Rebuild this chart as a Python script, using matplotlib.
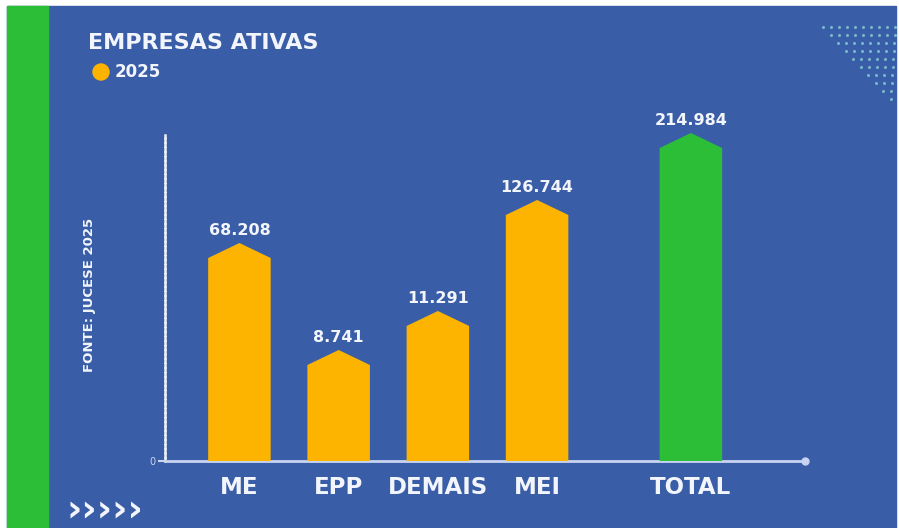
import matplotlib.pyplot as plt
from matplotlib.patches import Polygon, Rectangle, Circle

# Data
categories = ['ME', 'EPP', 'DEMAIS', 'MEI', 'TOTAL']
values = [68208, 8741, 11291, 126744, 214984]
# bar heights as drawn in the infographic (not to scale with values)
bar_heights = [218, 111, 150, 261, 328]
legend_label = '2025'
title = 'EMPRESAS ATIVAS'
source = 'FONTE: JUCESE 2025'

BLUE = '#3A5DA7'
GREEN = '#2DBE38'
ORANGE = '#FDB400'
WHITE = '#F2F5FB'

W, H = 899, 528
fig = plt.figure(figsize=(W / 100, H / 100), dpi=100)
fig.patch.set_facecolor('white')
plt.rcParams['font.family'] = ['DejaVu Sans']

# background / decoration axes in pixel units
bg = fig.add_axes([0, 0, 1, 1])
bg.set_xlim(0, W)
bg.set_ylim(H, 0)
bg.axis('off')
bg.add_patch(Rectangle((7, 6), W - 10, H - 6, color=BLUE, zorder=0))
bg.add_patch(Rectangle((7, 6), 41, H - 6, color=GREEN, zorder=1))

# dotted pattern top right
rows = 10
for i in range(rows):
    y = 27 + i * 8
    x = 823 + i * 7.5
    while x <= 896:
        bg.plot(x, y, 'o', ms=2.2, color='#86CFD6', alpha=0.8, mec='none')
        x += 8

bg.text(88, 43, title, fontsize=16, fontweight='bold', color=WHITE, va='center', ha='left')
bg.add_patch(Circle((101, 72), 8, color=ORANGE, zorder=3))
bg.text(115, 72, legend_label, fontsize=12, fontweight='bold', color=WHITE, va='center', ha='left')
bg.text(89, 295, source, fontsize=9.5, fontweight='bold', color=WHITE, rotation=90,
        va='center', ha='center')
bg.text(66, 511, '›››››', fontsize=27, fontweight='bold', color=WHITE, va='center', ha='left')

# chart axes
x_pos = [0, 1, 2, 3, 4.55]
bar_w = 0.63
peak = 15

left_px, right_px, base_px, top_px = 165, 805, 461, 135
ax = fig.add_axes([left_px / W, (H - base_px) / H, (right_px - left_px) / W, (base_px - top_px) / H])
ax.patch.set_alpha(0)
ax.set_xlim(-0.75, 5.7)
ax.set_ylim(0, base_px - top_px)

colors = [ORANGE] * 4 + [GREEN]
for x, h, v, c in zip(x_pos, bar_heights, values, colors):
    sh = h - peak
    pts = [(x - bar_w / 2, 0), (x - bar_w / 2, sh), (x, h), (x + bar_w / 2, sh), (x + bar_w / 2, 0)]
    ax.add_patch(Polygon(pts, closed=True, facecolor=c, edgecolor='none', clip_on=False, zorder=3))
    ax.text(x, h + 5, f'{v:,}'.replace(',', '.'), ha='center', va='bottom',
            fontsize=11.5, fontweight='bold', color=WHITE)

for s in ['top', 'right']:
    ax.spines[s].set_visible(False)
ax.spines['bottom'].set_color('#C9D4F2')
ax.spines['bottom'].set_linewidth(2)
ax.spines['left'].set_color('#EEF1FA')
ax.spines['left'].set_linewidth(1.8)
ax.spines['left'].set_linestyle((0, (1.0, 0.8)))
ax.plot(5.7, 0, 'o', ms=5, color='#C9D4F2', clip_on=False, zorder=4)

ax.set_xticks(x_pos)
ax.set_xticklabels(categories, fontsize=16.5, fontweight='bold', color=WHITE)
ax.tick_params(axis='x', length=0, pad=11)
ax.set_yticks([0])
ax.set_yticklabels(['0'], fontsize=7, color='#C9D4F2')
ax.tick_params(axis='y', length=5, width=1.5, color='#C9D4F2', pad=2)

fig.savefig('out.png', dpi=100, facecolor=fig.get_facecolor())
